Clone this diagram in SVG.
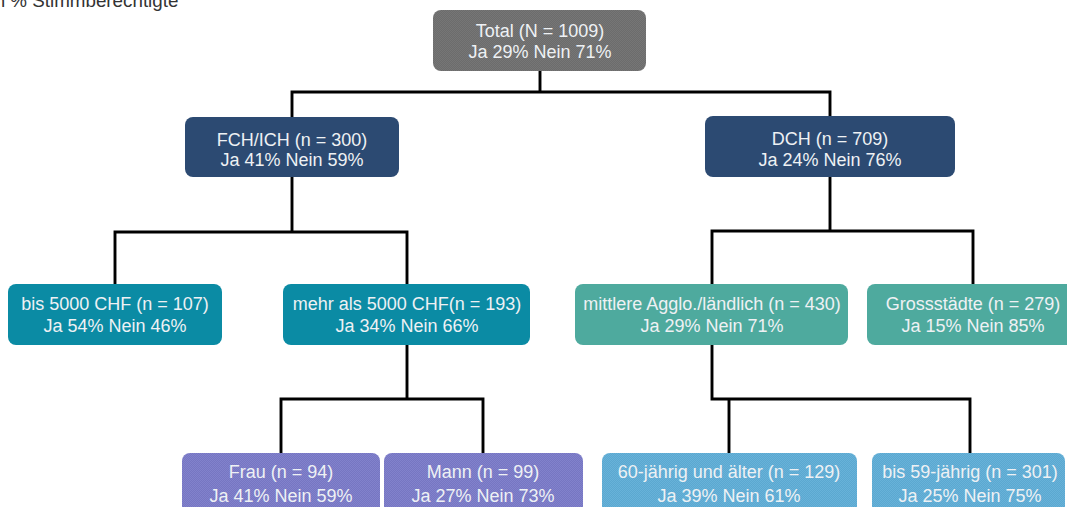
<svg xmlns="http://www.w3.org/2000/svg" width="1067" height="507" viewBox="0 0 1067 507">
<style>
.box{stroke:none}
.t{font-family:"Liberation Sans",Arial,sans-serif;font-size:18px;fill:#eef1f4;text-anchor:middle}
.title{font-family:"Liberation Sans",Arial,sans-serif;font-size:18.8px;fill:#333}
.c{fill:none;stroke:#000;stroke-width:2.9;stroke-linejoin:miter;stroke-linecap:square}
</style>
<defs>
<pattern id="pGray" width="2" height="2" patternUnits="userSpaceOnUse">
<rect width="2" height="2" fill="#6c6c6c"/><rect width="1" height="1" fill="#767676"/><rect x="1" y="1" width="1" height="1" fill="#767676"/>
</pattern>
<pattern id="pPurple" width="2" height="2" patternUnits="userSpaceOnUse">
<rect width="2" height="2" fill="#7676c2"/><rect width="1" height="1" fill="#8282cc"/><rect x="1" y="1" width="1" height="1" fill="#8282cc"/>
</pattern>
<pattern id="pBlue" width="2" height="2" patternUnits="userSpaceOnUse">
<rect width="2" height="2" fill="#5ba8d0"/><rect width="1" height="1" fill="#68b2d9"/><rect x="1" y="1" width="1" height="1" fill="#68b2d9"/>
</pattern>
</defs>
<rect width="1067" height="507" fill="#ffffff"/>
<text class="title" x="-9.5" y="7">in % Stimmberechtigte</text>

<g id="connectors">
<path class="c" d="M540,71 V92 M292,92 H830 M292,92 V117 M830,92 V116"/>
<path class="c" d="M292,177 V232 M115,232 H407 M115,232 V284 M407,232 V284"/>
<path class="c" d="M830,177 V231 M712,231 H973 M712,231 V284 M973,231 V284"/>
<path class="c" d="M407,345 V399 M281,399 H483 M281,399 V453 M483,399 V453"/>
<path class="c" d="M712,345 V399 H970 M729,399 V453 M970,399 V453"/>
</g>

<g id="total">
<rect class="box" x="433" y="10" width="213" height="61" rx="8" fill="url(#pGray)"/>
<text class="t" x="540" y="37">Total (N = 1009)</text>
<text class="t" x="540" y="58">Ja 29% Nein 71%</text>
</g>
<g id="fch">
<rect class="box" x="185" y="117" width="214" height="60" rx="8" fill="#2c4a72"/>
<text class="t" x="292" y="146">FCH/ICH (n = 300)</text>
<text class="t" x="292" y="166">Ja 41% Nein 59%</text>
</g>
<g id="dch">
<rect class="box" x="705" y="116" width="250" height="61" rx="8" fill="#2c4a72"/>
<text class="t" x="830" y="145">DCH (n = 709)</text>
<text class="t" x="830" y="166">Ja 24% Nein 76%</text>
</g>
<g id="bis5000">
<rect class="box" x="8" y="284" width="214" height="61" rx="8" fill="#0b8ba4"/>
<text class="t" x="115" y="310">bis 5000 CHF (n = 107)</text>
<text class="t" x="115" y="332">Ja 54% Nein 46%</text>
</g>
<g id="mehr5000">
<rect class="box" x="283" y="284" width="247" height="61" rx="8" fill="#0b8ba4"/>
<text class="t" x="407" y="310">mehr als 5000 CHF(n = 193)</text>
<text class="t" x="407" y="332">Ja 34% Nein 66%</text>
</g>
<g id="mittlere">
<rect class="box" x="575" y="284" width="273" height="61" rx="8" fill="#4eaa9e"/>
<text class="t" x="712" y="310">mittlere Agglo./ländlich (n = 430)</text>
<text class="t" x="712" y="332">Ja 29% Nein 71%</text>
</g>
<g id="gross">
<rect class="box" x="867" y="284" width="212" height="61" rx="8" fill="#4eaa9e"/>
<text class="t" x="973" y="310">Grossstädte (n = 279)</text>
<text class="t" x="973" y="332">Ja 15% Nein 85%</text>
</g>
<g id="frau">
<rect class="box" x="182" y="453" width="198" height="64" rx="8" fill="url(#pPurple)"/>
<text class="t" x="281" y="478">Frau (n = 94)</text>
<text class="t" x="281" y="502">Ja 41% Nein 59%</text>
</g>
<g id="mann">
<rect class="box" x="384" y="453" width="199" height="64" rx="8" fill="url(#pPurple)"/>
<text class="t" x="483" y="478">Mann (n = 99)</text>
<text class="t" x="483" y="502">Ja 27% Nein 73%</text>
</g>
<g id="alt60">
<rect class="box" x="602" y="453" width="255" height="64" rx="8" fill="url(#pBlue)"/>
<text class="t" x="729" y="478">60-jährig und älter (n = 129)</text>
<text class="t" x="729" y="502">Ja 39% Nein 61%</text>
</g>
<g id="bis59">
<rect class="box" x="872" y="453" width="193" height="64" rx="8" fill="url(#pBlue)"/>
<text class="t" x="970" y="478">bis 59-jährig (n = 301)</text>
<text class="t" x="970" y="502">Ja 25% Nein 75%</text>
</g>
</svg>
